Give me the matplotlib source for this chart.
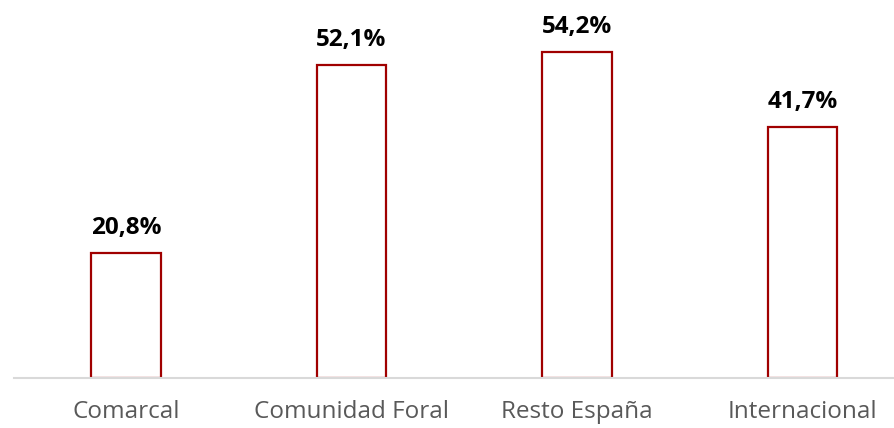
import matplotlib.pyplot as plt
import numpy as np

categories = ['Comarcal', 'Comunidad Foral', 'Resto España', 'Internacional']
values = [20.8, 52.1, 54.2, 41.7]
labels = ['20,8%', '52,1%', '54,2%', '41,7%']

plt.rcParams['font.family'] = ['Open Sans', 'DejaVu Sans']

fig = plt.figure(figsize=(8.95, 4.28), dpi=100)
ax = fig.add_axes([14 / 895, 1 - 378 / 428, 1 - 14 / 895, (378 - 17.4) / 428])

x = np.arange(len(categories))
ax.bar(x, values, width=0.31, facecolor='white', edgecolor='#A00000', linewidth=1.6, zorder=2)

for xi, v, lab in zip(x, values, labels):
    ax.text(xi, v + 3.2, lab, ha='center', va='baseline', fontsize=17.5, fontweight='bold', color='black')

ax.set_xlim((14 - 126) / 225.5, (895 - 126) / 225.5)
ax.set_ylim(0, 60)
ax.set_xticks(x)
ax.set_xticklabels(categories, fontsize=17.5, color='#595959')
ax.tick_params(axis='x', length=0, pad=16)
ax.set_yticks([])
for s in ['top', 'left', 'right']:
    ax.spines[s].set_visible(False)
ax.spines['bottom'].set_color('#D9D9D9')
ax.spines['bottom'].set_linewidth(1.5)
ax.spines['bottom'].set_zorder(3)

fig.savefig('out.png', dpi=100)
